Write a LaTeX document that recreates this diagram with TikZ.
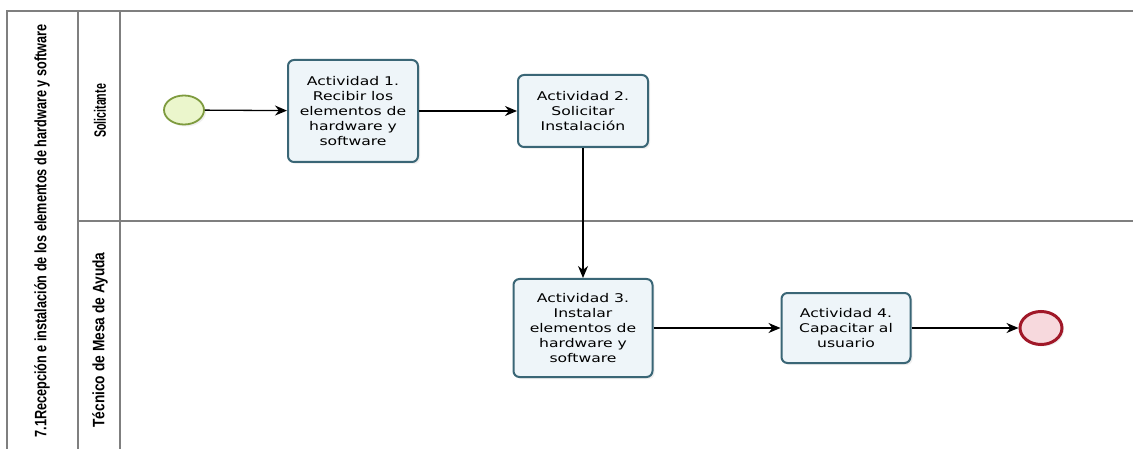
\documentclass[tikz,border=0pt]{standalone}
\usepackage{fontspec}
\usepackage{graphicx}
\usetikzlibrary{arrows.meta,shadows,shapes.geometric}
\newfontfamily\boxfont[FakeStretch=1.3]{DejaVu Sans}
\newfontfamily\headfont{Liberation Sans}
\definecolor{lanegray}{HTML}{7F7F7F}
\definecolor{taskborder}{HTML}{3A6676}
\definecolor{taskfill}{HTML}{EEF5F9}
\definecolor{startborder}{HTML}{7E9B3E}
\definecolor{startfill}{HTML}{EBF6CC}
\definecolor{endborder}{HTML}{A01828}
\definecolor{endfill}{HTML}{F7D9DD}
\tikzset{
  lane/.style={draw=lanegray, line width=1.3pt},
  task/.style={draw=taskborder, fill=taskfill, line width=2pt, rounded corners=6pt,
    align=center, font=\boxfont\fontsize{12}{15}\selectfont, inner sep=2pt,
    drop shadow={opacity=0.12, shadow xshift=2pt, shadow yshift=-2pt}},
  startev/.style={ellipse, draw=startborder, fill=startfill, line width=1.8pt,
    minimum width=40pt, minimum height=29pt, inner sep=0pt,
    drop shadow={opacity=0.12, shadow xshift=2pt, shadow yshift=-2pt}},
  endev/.style={ellipse, draw=endborder, fill=endfill, line width=3pt,
    minimum width=42pt, minimum height=33pt, inner sep=0pt,
    drop shadow={opacity=0.12, shadow xshift=2pt, shadow yshift=-2pt}},
  flow/.style={draw=black, line width=1.3pt, -{Stealth[length=12pt,width=10pt]}},
  headlabel/.style={rotate=90, inner sep=0pt}
}
\begin{document}
\begin{tikzpicture}[x=1pt,y=-1pt]
\useasboundingbox (0,0) rectangle (1133,449);
\fill[white] (0,0) rectangle (1133,449);
% pool and lanes
\draw[lane] (7,449) -- (7,11) -- (1133,11);
\draw[lane] (78,11) -- (78,449);
\draw[lane] (120,11) -- (120,449);
\draw[lane] (78,221) -- (1133,221);
% header labels
\node[headlabel] (title) at (42,231) {\resizebox{413pt}{1.5\height}{\headfont\bfseries\fontsize{11}{13}\selectfont 7.1Recepción e instalación de los elementos de hardware y software}};
\node[headlabel] (lane1) at (100,111) {\resizebox{54pt}{1.5\height}{\headfont\bfseries\fontsize{11}{13}\selectfont Solicitante}};
\node[headlabel] (lane2) at (100,340) {\resizebox{175pt}{1.5\height}{\headfont\bfseries\fontsize{11}{13}\selectfont Técnico de Mesa de Ayuda}};
% events and tasks
\node[startev] (start) at (184,110) {};
\node[task, minimum width=130pt, minimum height=102pt] (a1) at (353,111) {Actividad 1.\\Recibir los\\elementos de\\hardware y\\software};
\node[task, minimum width=130pt, minimum height=72pt] (a2) at (583,111) {Actividad 2.\\Solicitar\\Instalación};
\node[task, minimum width=139pt, minimum height=98pt] (a3) at (583,328) {Actividad 3.\\Instalar\\elementos de\\hardware y\\software};
\node[task, minimum width=129pt, minimum height=70pt] (a4) at (846,328) {Actividad 4.\\Capacitar al\\usuario};
\node[endev] (end) at (1041,328) {};
% flows
\draw[flow] (start) -- (a1);
\draw[flow] (a1) -- (a2);
\draw[flow] (a2.south) -- (a3.north);
\draw[flow] (a3) -- (a4);
\draw[flow] (a4) -- (end);
\end{tikzpicture}
\end{document}
